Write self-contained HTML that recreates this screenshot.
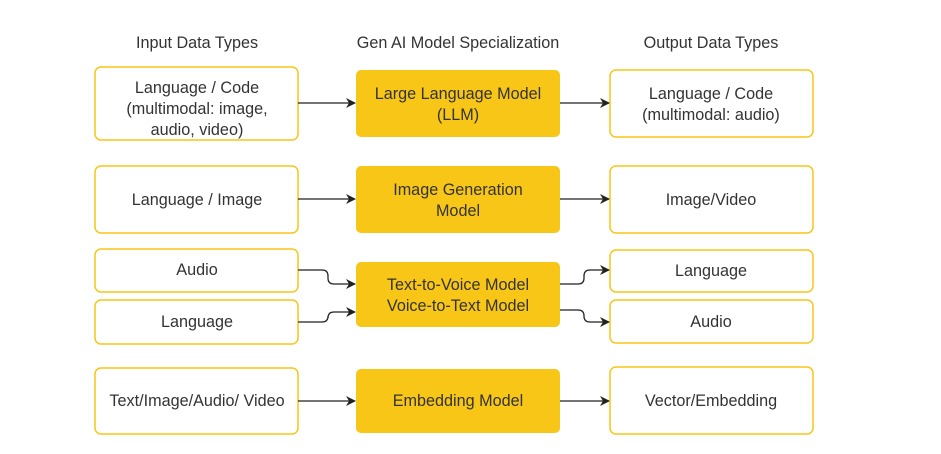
<!DOCTYPE html>
<html><head><meta charset="utf-8"><style>
html,body{margin:0;padding:0;background:#fff;}
svg{display:block;}
text{font-family:"Liberation Sans",sans-serif;font-size:16.2px;fill:#333;text-anchor:middle;}
.o{fill:#fff;stroke:#F8C617;stroke-width:1.5;}
.y{fill:#F8C617;stroke:none;}
.l{fill:none;stroke:#222;stroke-width:1.3;}
</style></head><body>
<svg width="941" height="454" viewBox="0 0 941 454">
<defs><marker id="a" markerWidth="10" markerHeight="10" refX="9" refY="5" orient="auto" markerUnits="userSpaceOnUse"><path d="M0,0 L10,5 L0,10 L3,5 Z" fill="#222"/></marker></defs>
<text x="197" y="48">Input Data Types</text>
<text x="458" y="48">Gen AI Model Specialization</text>
<text x="711" y="48">Output Data Types</text>

<rect class="o" x="95" y="67" width="203" height="73" rx="6"/>
<text x="197" y="93">Language / Code</text>
<text x="197" y="114">(multimodal: image,</text>
<text x="197" y="135">audio, video)</text>
<rect class="y" x="356" y="70" width="204" height="67" rx="5"/>
<text x="458" y="99">Large Language Model</text>
<text x="458" y="120">(LLM)</text>
<rect class="o" x="610" y="70" width="203" height="67" rx="6"/>
<text x="711" y="99">Language / Code</text>
<text x="711" y="120">(multimodal: audio)</text>
<path class="l" d="M298,103 H355" marker-end="url(#a)"/>
<path class="l" d="M560,103 H609" marker-end="url(#a)"/>

<rect class="o" x="95" y="166" width="203" height="67" rx="6"/>
<text x="197" y="205">Language / Image</text>
<rect class="y" x="356" y="166" width="204" height="67" rx="5"/>
<text x="458" y="195">Image Generation</text>
<text x="458" y="216">Model</text>
<rect class="o" x="610" y="166" width="203" height="67" rx="6"/>
<text x="711" y="205">Image/Video</text>
<path class="l" d="M298,199 H355" marker-end="url(#a)"/>
<path class="l" d="M560,199 H609" marker-end="url(#a)"/>

<rect class="o" x="95" y="249" width="203" height="43" rx="6"/>
<text x="197" y="275">Audio</text>
<rect class="o" x="95" y="300" width="203" height="44" rx="6"/>
<text x="197" y="327">Language</text>
<rect class="y" x="356" y="262" width="204" height="65" rx="5"/>
<text x="458" y="290">Text-to-Voice Model</text>
<text x="458" y="311">Voice-to-Text Model</text>
<rect class="o" x="610" y="250" width="203" height="42" rx="6"/>
<text x="711" y="276">Language</text>
<rect class="o" x="610" y="300" width="203" height="43" rx="6"/>
<text x="711" y="327">Audio</text>
<path class="l" d="M298,270 H322 Q328,270 328,276 V278 Q328,284 334,284 H355" marker-end="url(#a)"/>
<path class="l" d="M298,322 H322 Q328,322 328,316 V318 Q328,312 334,312 H355" marker-end="url(#a)"/>
<path class="l" d="M560,284 H578 Q584,284 584,278 V276 Q584,270 590,270 H609" marker-end="url(#a)"/>
<path class="l" d="M560,310 H578 Q584,310 584,316 V316 Q584,322 590,322 H609" marker-end="url(#a)"/>

<rect class="o" x="95" y="368" width="203" height="66" rx="6"/>
<text x="197" y="406">Text/Image/Audio/ Video</text>
<rect class="y" x="356" y="369" width="204" height="64" rx="5"/>
<text x="458" y="406">Embedding Model</text>
<rect class="o" x="610" y="367" width="203" height="67" rx="6"/>
<text x="711" y="406">Vector/Embedding</text>
<path class="l" d="M298,401 H355" marker-end="url(#a)"/>
<path class="l" d="M560,401 H609" marker-end="url(#a)"/>
</svg>
</body></html>
